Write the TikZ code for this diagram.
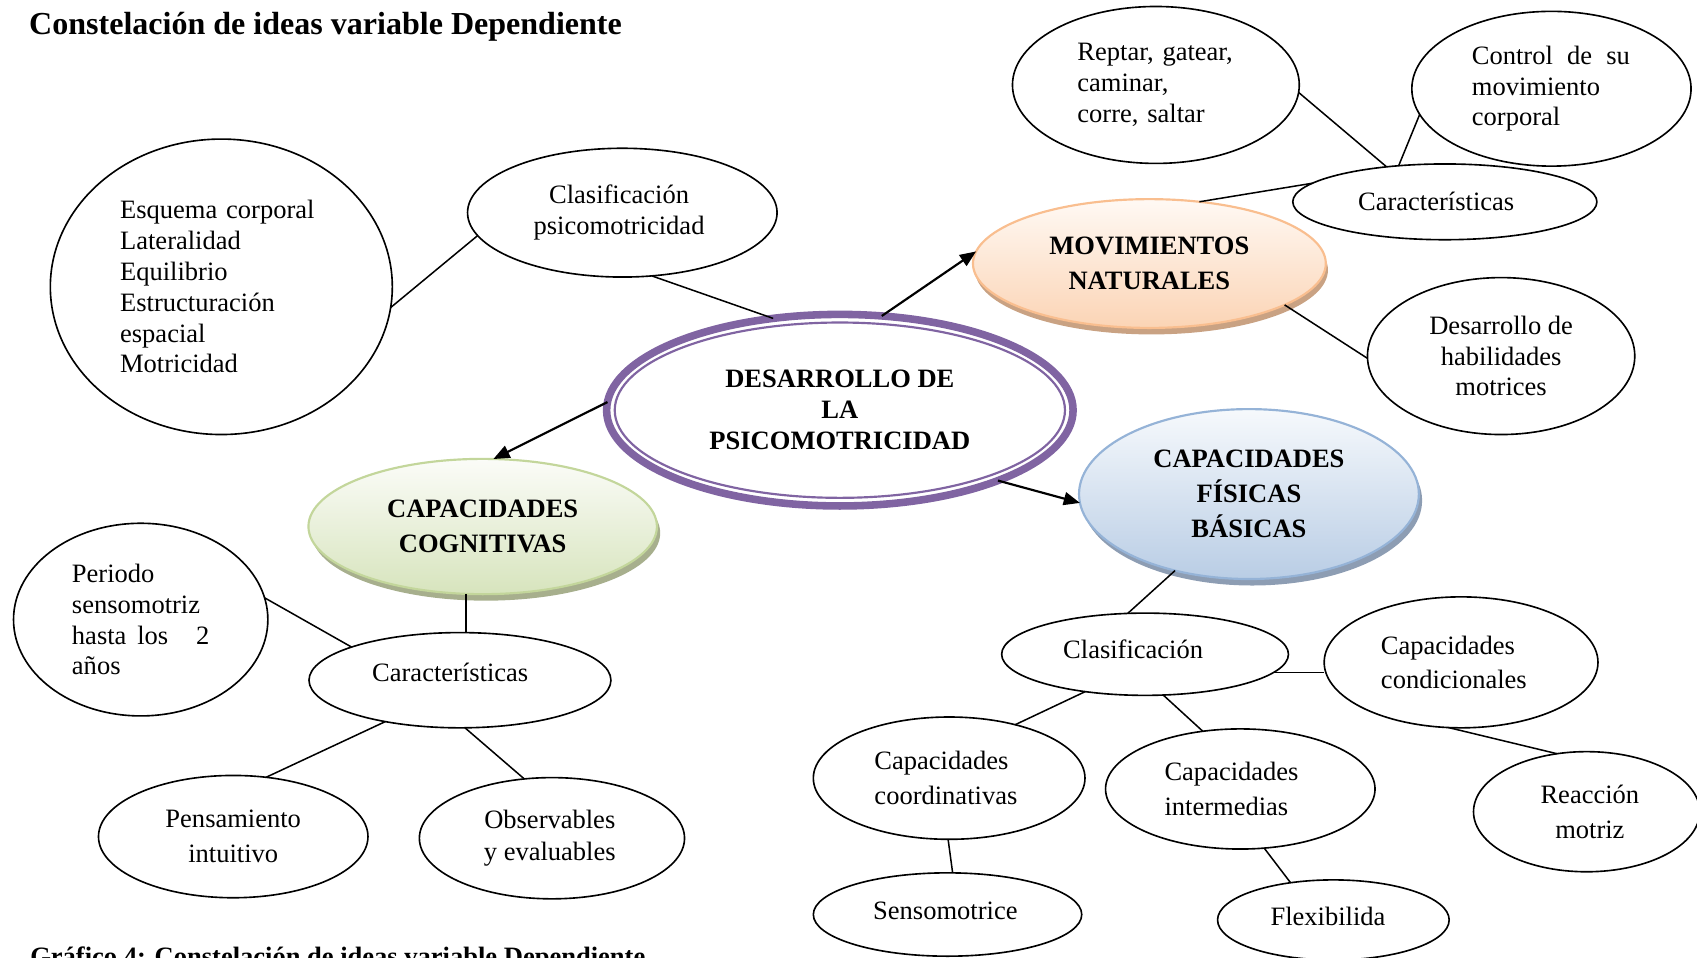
\documentclass[tikz,border=0pt]{standalone}
\usepackage{fontspec}
\setmainfont{Liberation Serif}
\usetikzlibrary{shapes.geometric,arrows.meta,shadows}
\definecolor{cpurple}{HTML}{8064A2}
\definecolor{orbord}{HTML}{F9BE8F}
\definecolor{ortop}{HTML}{FFF9F4}
\definecolor{orbot}{HTML}{FBD4B5}
\definecolor{orshad}{HTML}{C9A283}
\definecolor{blbord}{HTML}{95B3D7}
\definecolor{bltop}{HTML}{F6F9FC}
\definecolor{blbot}{HTML}{B9CDE5}
\definecolor{blshad}{HTML}{8D9DB3}
\definecolor{grbord}{HTML}{C3D69B}
\definecolor{grtop}{HTML}{FBFCF8}
\definecolor{grbot}{HTML}{D7E4BD}
\definecolor{grshad}{HTML}{A7AF8D}
\begin{document}
\begin{tikzpicture}[x=1pt,y=-1pt,
  every node/.style={inner sep=0pt, outer sep=0pt},
  sz/.style 2 args={minimum width=#1pt, minimum height=#2pt},
  bub/.style={ellipse, draw=black, fill=white, line width=1.5pt, font=\fontsize{24.5}{28.5}\selectfont, align=center},
  key/.style={ellipse, line width=2pt, font=\bfseries\fontsize{24.5}{32}\selectfont, align=center},
  link/.style={line width=1.4pt},
  arr/.style={line width=2pt, -{Triangle[length=15pt,width=12pt]}},
]
\useasboundingbox (0,0) rectangle (1568,885);
\clip (0,0) rectangle (1568,885);

% title and caption
\node[anchor=base west, font=\bfseries\fontsize{29.6}{34}\selectfont] (title) at (27,32) {Constelación de ideas variable Dependiente};
\node[anchor=base west, font=\bfseries\fontsize{24.5}{28.5}\selectfont] (capt) at (28,892) {Gráfico 4: Constelación de ideas variable Dependiente};

% central node
\node[ellipse, draw=cpurple, fill=white, line width=7pt, sz={431}{177}, font=\bfseries\fontsize{24.5}{28.5}\selectfont, align=center] (cen) at (776,379) {DESARROLLO DE\\LA\\PSICOMOTRICIDAD};
\draw[cpurple, line width=2pt] (cen.center) ellipse [x radius=208, y radius=81];

% key nodes
\node[key, draw=orbord, top color=ortop, bottom color=orbot, general shadow={fill=orshad, shadow xshift=2pt, shadow yshift=-6pt}, sz={326}{119}] (mov) at (1062,243.5) {MOVIMIENTOS\\NATURALES};
\node[key, draw=blbord, top color=bltop, bottom color=blbot, general shadow={fill=blshad, shadow xshift=3pt, shadow yshift=-6pt}, sz={314}{157}, font=\bfseries\fontsize{24.5}{32.5}\selectfont] (fis) at (1154,456.5) {CAPACIDADES\\FÍSICAS\\BÁSICAS};
\node[key, draw=grbord, top color=grtop, bottom color=grbot, general shadow={fill=grshad, shadow xshift=3pt, shadow yshift=-6pt}, sz={322}{125}] (cog) at (446,486.5) {CAPACIDADES\\COGNITIVAS};

% plain bubbles
\node[bub, sz={316}{273}, text width=187pt, align=left] (esq) at (204.5,265) {Esquema corporal\\Lateralidad\\Equilibrio\\Estructuración\\espacial\\Motricidad};
\node[bub, sz={286}{119}] (clp) at (575,196.5) {\hspace*{-6pt}Clasificación\\\hspace*{-6pt}psicomotricidad};
\node[bub, sz={281}{70}] (chtr) at (1335,186.5) {\hspace*{-16pt}Características};
\node[bub, sz={265}{145}, text width=145pt, align=left] (rep) at (1068,78.5) {Reptar, gatear,\\caminar,\\corre, saltar};
\node[bub, sz={258}{143}, text width=147pt, align=left] (ctl) at (1433.5,82) {\makebox[146pt][l]{Control\hfill de\hfill su}\\movimiento\\corporal};
\node[bub, sz={247}{145}] (des) at (1387,329) {Desarrollo de\\habilidades\\motrices};
\node[bub, sz={235}{178}, text width=127pt, align=left] (per) at (130,572.5) {Periodo\\sensomotriz\\\makebox[127pt][l]{hasta\hspace{10pt}los\hfill 2}\\años};
\node[bub, sz={279}{88}, text depth=14pt] (chl) at (425,628.5) {\hspace*{-18pt}Características};
\node[bub, sz={249}{113}, font=\fontsize{24.5}{32}\selectfont] (pen) at (215.5,773) {Pensamiento\\intuitivo};
\node[bub, sz={245}{112}, font=\fontsize{24.5}{29}\selectfont] (obs) at (510,774.5) {\hspace*{-4pt}Observables\\\hspace*{-4pt}y evaluables};
\node[bub, sz={265}{76}, text depth=10pt] (clb) at (1058,604.5) {\hspace*{-22pt}Clasificación};
\node[bub, sz={253}{121}, text width=148pt, align=left, font=\fontsize{24.5}{32}\selectfont] (cnd) at (1350,612) {Capacidades\\condicionales};
\node[bub, sz={251}{113}, text width=138pt, align=left, font=\fontsize{24.5}{32}\selectfont] (coo) at (877,719) {Capacidades\\coordinativas};
\node[bub, sz={249}{111}, text width=140pt, align=left, font=\fontsize{24.5}{32}\selectfont] (int) at (1146,729) {Capacidades\\intermedias};
\node[bub, sz={209}{111}, font=\fontsize{24.5}{32}\selectfont] (rea) at (1466,750) {\hspace*{6pt}Reacción\\\hspace*{6pt}motriz};
\node[bub, sz={248}{77}, text depth=7pt] (sen) at (875.5,845) {\hspace*{-4pt}Sensomotrice};
\node[bub, sz={214}{74}, text depth=6pt] (flx) at (1232,850) {\hspace*{-10pt}Flexibilida};

% arrows from the centre
\draw[arr] (cen.66) -- (mov.176.7);
\draw[arr] (cen.178.1) -- (cog.81);
\draw[arr] (cen.-24.8) -- (fis.183.8);

% links
\draw[link] (esq.-7.3) -- (clp.189.5);
\draw[link] (clp.295.6) -- (cen.126.9);
\draw[link] (mov.51.1) -- (chtr.172.4);
\draw[link] (rep.-3.2) -- (chtr.149.8);
\draw[link] (ctl.191.7) -- (chtr.142.3);
\draw[link] (mov.-17.1) -- (des.181.5);
\draw[link] (cog.256.1) -- (cog.256.1 |- chl.north);
\draw[link] (per.10.4) -- (chl.163.5);
\draw[link] (chl.209.5) -- (pen.61.1);
\draw[link] (chl.276.4) -- (obs.115.2);
\draw[link] (fis.226.9) -- (clb.113.8);
\draw[link] (clb.-8.8) -- (clb.-8.8 -| cnd.west);
\draw[link] (clb.212.9) -- (coo.39);
\draw[link] (clb.294.5) -- (int.123.9);
\draw[link] (cnd.259.8) -- (rea.117);
\draw[link] (coo.269) -- (sen.83.6);
\draw[link] (int.292.8) -- (flx.139.3);
\end{tikzpicture}
\end{document}
